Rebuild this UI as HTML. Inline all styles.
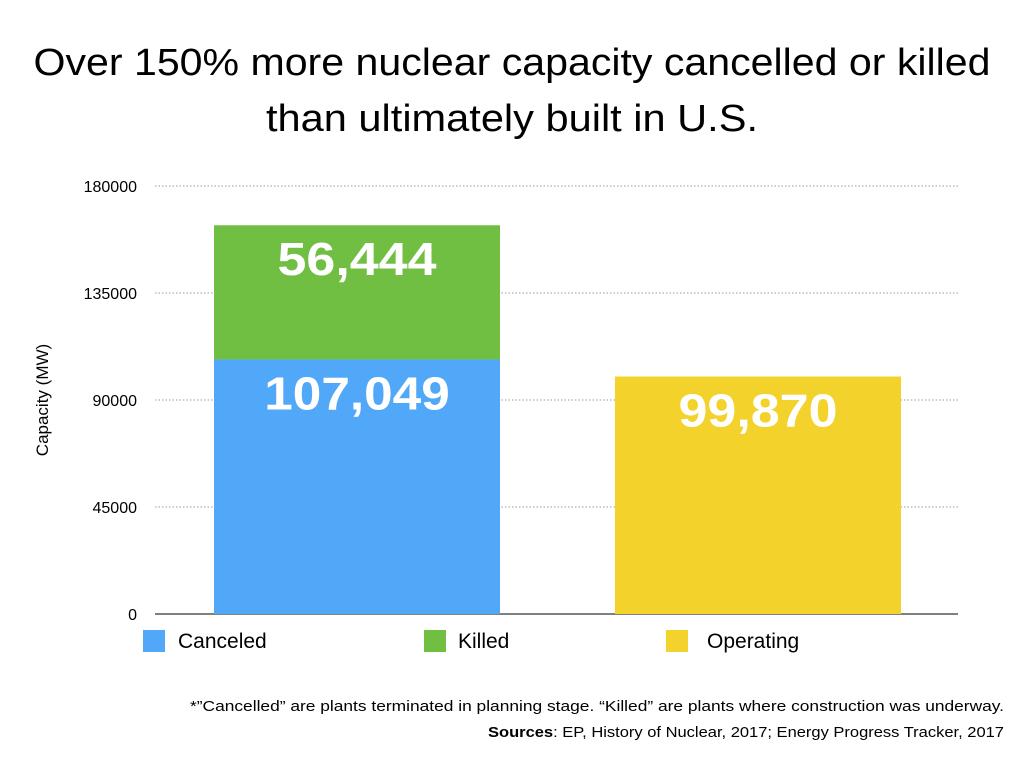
<!DOCTYPE html>
<html><head><meta charset="utf-8"><style>
body{margin:0;background:#fff;font-family:"Liberation Sans",sans-serif;}
svg text{font-family:"Liberation Sans",sans-serif;}
</style></head><body>
<svg width="1024" height="768" viewBox="0 0 1024 768">
<text x="512" y="75" text-anchor="middle" font-size="38" textLength="957" lengthAdjust="spacingAndGlyphs" fill="#000">Over 150% more nuclear capacity cancelled or killed</text>
<text x="512" y="131" text-anchor="middle" font-size="38" textLength="492" lengthAdjust="spacingAndGlyphs" fill="#000">than ultimately built in U.S.</text>
<g id="grid"></g>
<g id="bars"></g>
<text transform="translate(48,400) rotate(-90)" text-anchor="middle" font-size="17" fill="#000">Capacity (MW)</text>
<g id="legend"></g>
<text x="1004" y="711" text-anchor="end" font-size="15" textLength="814" lengthAdjust="spacingAndGlyphs" fill="#000">*”Cancelled” are plants terminated in planning stage. “Killed” are plants where construction was underway.</text>
<text x="1004" y="737" text-anchor="end" font-size="15" textLength="516" lengthAdjust="spacingAndGlyphs" fill="#000"><tspan font-weight="bold">Sources</tspan>: EP, History of Nuclear, 2017; Energy Progress Tracker, 2017</text>
</svg>
<script>
const ticks=[0,45000,90000,135000,180000];
const categories=["Cancelled/Killed","Operating"];
const canceled=[107049,0];
const killed=[56444,0];
const operating=[0,99870];
const NS="http://www.w3.org/2000/svg";
const x0=155,x1=958,y0=614,yTop=186,yMax=180000;
function y(v){return y0-(v/yMax)*(y0-yTop);}
const barX=[214,615],barW=286;
function mk(tag,attrs,parent,txt){const e=document.createElementNS(NS,tag);for(const k in attrs)e.setAttribute(k,attrs[k]);if(txt!==undefined)e.textContent=txt;parent.appendChild(e);return e;}
const grid=document.getElementById('grid');
ticks.forEach(t=>{
 const l=mk('line',{x1:x0,x2:x1,y1:y(t),y2:y(t),stroke:t===0?'#000':'#999','stroke-dasharray':t===0?'':'1.5 2','stroke-width':1},grid);
 
 
 const tx=mk('text',{x:137,y:y(t)+6,'text-anchor':'end','font-size':16,fill:'#000'},grid,String(t));
 
 
});
const bars=document.getElementById('bars');
function fmt(v){return v.toLocaleString('en-US');}
function seg(i,base,val,color,name,labelOffset){
 if(!val)return;
 const r=mk('rect',{x:barX[i],y:y(base+val),width:barW,height:y(base)-y(base+val),fill:color},bars);
 
 
 const s=fmt(val);
 const t=mk('text',{x:barX[i]+barW/2,y:y(base+val)+labelOffset,'text-anchor':'middle','font-size':46,'font-weight':'bold',fill:'#fff',textLength:s.length*26.5,lengthAdjust:'spacingAndGlyphs'},bars,s);
 
 
}
for(let i=0;i<categories.length;i++){
 seg(i,0,canceled[i],'#52a8f8','bar-canceled',50);
 seg(i,canceled[i],killed[i],'#70bf43','bar-killed',50);
 seg(i,0,operating[i],'#f3d22b','bar-operating',50);
}
const lg=document.getElementById('legend');
[["Canceled","#52a8f8",143,178],["Killed","#70bf43",424,458],["Operating","#f3d22b",666,707]].forEach(d=>{
 const r=mk('rect',{x:d[2],y:630,width:22,height:22,fill:d[1]},lg);
 
 
 const t=mk('text',{x:d[3],y:648,'font-size':21,fill:'#000'},lg,d[0]);
 
 
});
</script>
</body></html>
